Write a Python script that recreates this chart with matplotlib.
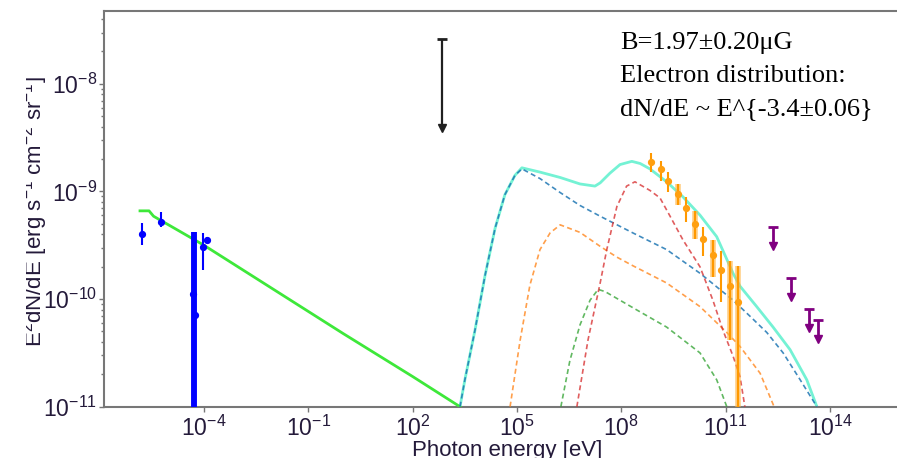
"""
SED of the source: synchrotron + inverse-Compton model with radio, X-ray,
Fermi-LAT and TeV data.  Writes out.png.
"""

import matplotlib
matplotlib.use("Agg")
import numpy as np
import matplotlib.pyplot as plt
from matplotlib.ticker import FixedLocator, FixedFormatter, LogLocator, NullFormatter
from matplotlib.transforms import Bbox, TransformedBbox

# --- Data (log10 of photon energy in eV, log10 of E^2 dN/dE) ---
# synchrotron model (green solid)
sync_logE = [-5.84, -5.58, -5.45, -4.0, -2.0, 0.0, 2.0, 3.36]
sync_logF = [-9.18, -9.18, -9.23, -9.50, -9.91, -10.32, -10.72, -11.0]

# total IC model (aquamarine solid)
total_logE = [3.36, 3.50, 3.79, 4.08, 4.37, 4.65, 4.94, 5.14, 5.66, 6.24, 6.81, 7.24,
              7.39, 7.67, 7.96, 8.30, 8.54, 8.82, 9.30, 9.77, 10.26, 10.74, 11.21,
              11.41, 11.89, 12.36, 12.85, 13.33, 13.62]
total_logF = [-11.0, -10.75, -10.29, -9.78, -9.34, -9.03, -8.85, -8.78, -8.82, -8.87,
              -8.93, -8.95, -8.92, -8.83, -8.75, -8.72, -8.74, -8.79, -8.91, -9.05,
              -9.22, -9.42, -9.76, -9.88, -10.07, -10.26, -10.47, -10.75, -11.0]

# IC components (dashed)
ic1_logE = [3.36, 3.50, 3.79, 4.08, 4.37, 4.65, 4.94, 5.14, 5.66, 6.24, 6.81, 7.39,
            8.33, 9.30, 10.26, 11.21, 11.70, 12.18, 12.65, 13.14, 13.62]
ic1_logF = [-11.0, -10.75, -10.29, -9.78, -9.34, -9.03, -8.85, -8.79, -8.88, -9.01,
            -9.13, -9.23, -9.385, -9.54, -9.76, -10.01, -10.16, -10.31, -10.5, -10.75, -11.0]

ic2_logE = [4.80, 5.09, 5.37, 5.66, 5.95, 6.24, 6.81, 7.39, 7.87, 8.33, 9.30, 10.26,
            11.03, 11.41, 11.99, 12.39]
ic2_logF = [-11.0, -10.38, -9.87, -9.54, -9.385, -9.31, -9.38, -9.51, -9.61, -9.69,
            -9.85, -10.07, -10.31, -10.44, -10.69, -11.0]

ic3_logE = [6.26, 6.52, 6.81, 7.10, 7.33, 7.53, 8.33, 9.30, 10.26, 10.74, 11.03]
ic3_logF = [-11.0, -10.57, -10.24, -10.01, -9.91, -9.93, -10.08, -10.26, -10.5, -10.75, -11.0]

ic4_logE = [6.72, 7.04, 7.39, 7.58, 7.87, 8.15, 8.39, 8.82, 9.11, 9.40, 9.77, 10.26,
            10.63, 10.92, 11.21, 11.41, 11.55]
ic4_logF = [-11.0, -10.38, -9.85, -9.54, -9.14, -8.95, -8.91, -8.99, -9.06, -9.23,
            -9.45, -9.70, -10.01, -10.29, -10.53, -10.72, -11.0]

# radio points (blue)
radio_logE = [-5.79, -5.245, -4.33, -4.26, -4.04, -3.92]
radio_logF = [-9.394, -9.28, -9.95, -10.147, -9.52, -9.45]
radio_lo = [-9.496, -9.326, -12.0, -12.0, -9.73, -9.48]
radio_hi = [-9.292, -9.195, -9.373, -9.373, -9.385, -9.42]
radio_thick = [False, False, True, True, False, False]

# Fermi-LAT points (orange)
lat_logE = [8.844, 9.131, 9.35, 9.62, 9.86, 10.117, 10.356, 10.626, 10.856, 11.124, 11.345]
lat_logF = [-8.722, -8.793, -8.899, -9.022, -9.15, -9.301, -9.44, -9.589, -9.729, -9.875, -10.023]
lat_lo = [-8.821, -8.899, -9.001, -9.125, -9.28, -9.44, -9.599, -9.791, -10.023, -10.38, -11.5]
lat_hi = [-8.638, -8.713, -8.815, -8.929, -9.053, -9.178, -9.332, -9.45, -9.549, -9.642, -9.69]
lat_thick = [False, False, False, True, False, True, False, True, False, True, True]

# upper limits: value and arrow tip
xray_logE = [2.834]
xray_logF = [-7.585]
xray_tip = [-8.41]

tev_logE = [12.37, 12.88, 13.395, 13.66]
tev_logF = [-9.326, -9.8, -10.094, -10.193]
tev_tip = [-9.506, -9.977, -10.27, -10.373]

xtick_exp = [-4, -1, 2, 5, 8, 11, 14]
ytick_exp = [-11, -10, -9, -8]

info_lines = ["B=1.97\u00b10.20\u03bcG",
              "Electron distribution:",
              "dN/dE ~ E^{-3.4\u00b10.06}"]


def p(v):
    return 10.0 ** np.asarray(v, dtype=float)


def main():
    plt.rcParams["font.family"] = ["Liberation Sans", "DejaVu Sans"]
    plt.rcParams["mathtext.fontset"] = "custom"
    plt.rcParams["mathtext.rm"] = "Liberation Sans"
    plt.rcParams["mathtext.it"] = "Liberation Sans:italic"
    plt.rcParams["axes.unicode_minus"] = False

    W, H = 897, 458
    fig = plt.figure(figsize=(W / 100, H / 100), dpi=100)
    ax = fig.add_axes([104 / W, (H - 406.7) / H, (900 - 104) / W, (406.7 - 10.7) / H])
    ax.set_xscale("log")
    ax.set_yscale("log")
    ax.set_xlim(10 ** -6.875, 10 ** 16.01)
    ax.set_ylim(1e-11, 10 ** -7.32)

    # models
    ax.plot(p(sync_logE), p(sync_logF), color="#3ee83a", lw=2.0, zorder=3)
    ax.plot(p(total_logE), p(total_logF), color="#74f2d4", lw=2.0, zorder=2)
    dash = (0, (3.0, 2.0))
    ax.plot(p(ic1_logE), p(ic1_logF), color="#1f77b4", lw=1.2, ls=dash, alpha=0.85, zorder=3)
    ax.plot(p(ic2_logE), p(ic2_logF), color="#ff7f0e", lw=1.2, ls=dash, alpha=0.75, zorder=3)
    ax.plot(p(ic3_logE), p(ic3_logF), color="#2ca02c", lw=1.2, ls=dash, alpha=0.75, zorder=3)
    ax.plot(p(ic4_logE), p(ic4_logF), color="#d62728", lw=1.2, ls=dash, alpha=0.75, zorder=3)

    # radio points
    for x, lo, hi, thick in zip(radio_logE, radio_lo, radio_hi, radio_thick):
        ax.vlines(p(x), p(lo), p(hi), color="#0000ff", lw=2.8 if thick else 1.5, zorder=4)
    ax.plot(p(radio_logE), p(radio_logF), "o", color="#0000ff", ms=4.2, zorder=5)

    # Fermi-LAT points
    for x, lo, hi, thick in zip(lat_logE, lat_lo, lat_hi, lat_thick):
        if thick:
            ax.vlines(p(x), p(lo), p(hi), color="#ffb340", lw=4.0, alpha=0.65, zorder=4)
        ax.vlines(p(x), p(lo), p(hi), color="#ff9900", lw=1.5, zorder=5)
    ax.plot(p(lat_logE), p(lat_logF), "o", color="#ff9f10", ms=4.2, zorder=6)

    # upper limits
    for xs, ys, tips, col, lw in [(xray_logE, xray_logF, xray_tip, "#202020", 1.6),
                                  (tev_logE, tev_logF, tev_tip, "#800080", 2.0)]:
        ax.vlines(p(xs), p(ys), p(tips), color=col, lw=lw, zorder=5)
        ax.plot(p(xs), p(ys), "_", color=col, ms=7, mew=2, zorder=5)
        ax.plot(p(xs), p(tips), "v", color=col, ms=5.5, zorder=5)

    # axes styling
    for side in ["left", "bottom", "top", "right"]:
        ax.spines[side].set_color("#777777")
        ax.spines[side].set_linewidth(1.5)
    ax.xaxis.set_major_locator(FixedLocator(p(xtick_exp)))
    ax.xaxis.set_major_formatter(FixedFormatter(
        [r"$\mathregular{10^{%d}}$" % e for e in xtick_exp]))
    ax.xaxis.set_minor_locator(FixedLocator([]))
    ax.yaxis.set_major_locator(FixedLocator(p(ytick_exp)))
    ax.yaxis.set_major_formatter(FixedFormatter(
        [r"$\mathregular{10^{%d}}$" % e for e in ytick_exp]))
    ax.yaxis.set_minor_locator(LogLocator(base=10, subs=np.arange(2, 10)))
    ax.yaxis.set_minor_formatter(NullFormatter())
    ax.tick_params(which="both", direction="out", color="#777777", width=1.0,
                   labelcolor="#241a3a", labelsize=16.5)
    ax.tick_params(which="major", length=3.5)
    ax.tick_params(which="minor", length=2.0)
    ax.tick_params(axis="x", pad=3)
    ax.tick_params(axis="y", pad=1.5)

    # axis labels, placed in pixels; the y label is clipped at the left as in the source
    fig.text(507 / W, 2 / H, "Photon energy [eV]", ha="center", va="baseline",
             fontsize=16, color="#241a3a")
    ylab = fig.text(41 / W, 1 - 212 / H,
                    r"E$^2$dN/dE [erg s$^{-1}$ cm$^{-2}$ sr$^{-1}$]",
                    rotation=90, ha="center", va="baseline", fontsize=16,
                    color="#241a3a", rotation_mode="anchor")
    ylab.set_clip_box(TransformedBbox(Bbox([[26 / W, 0], [1, 1]]), fig.transFigure))
    ylab.set_clip_on(True)

    # parameter box
    for i, line in enumerate(info_lines):
        fig.text(620 / W, 1 - (49 + 33 * i) / H, line, ha="left", va="baseline",
                 fontsize=19, family="Liberation Serif", color="black")

    fig.savefig("out.png", dpi=100)
    plt.close(fig)


if __name__ == "__main__":
    main()
